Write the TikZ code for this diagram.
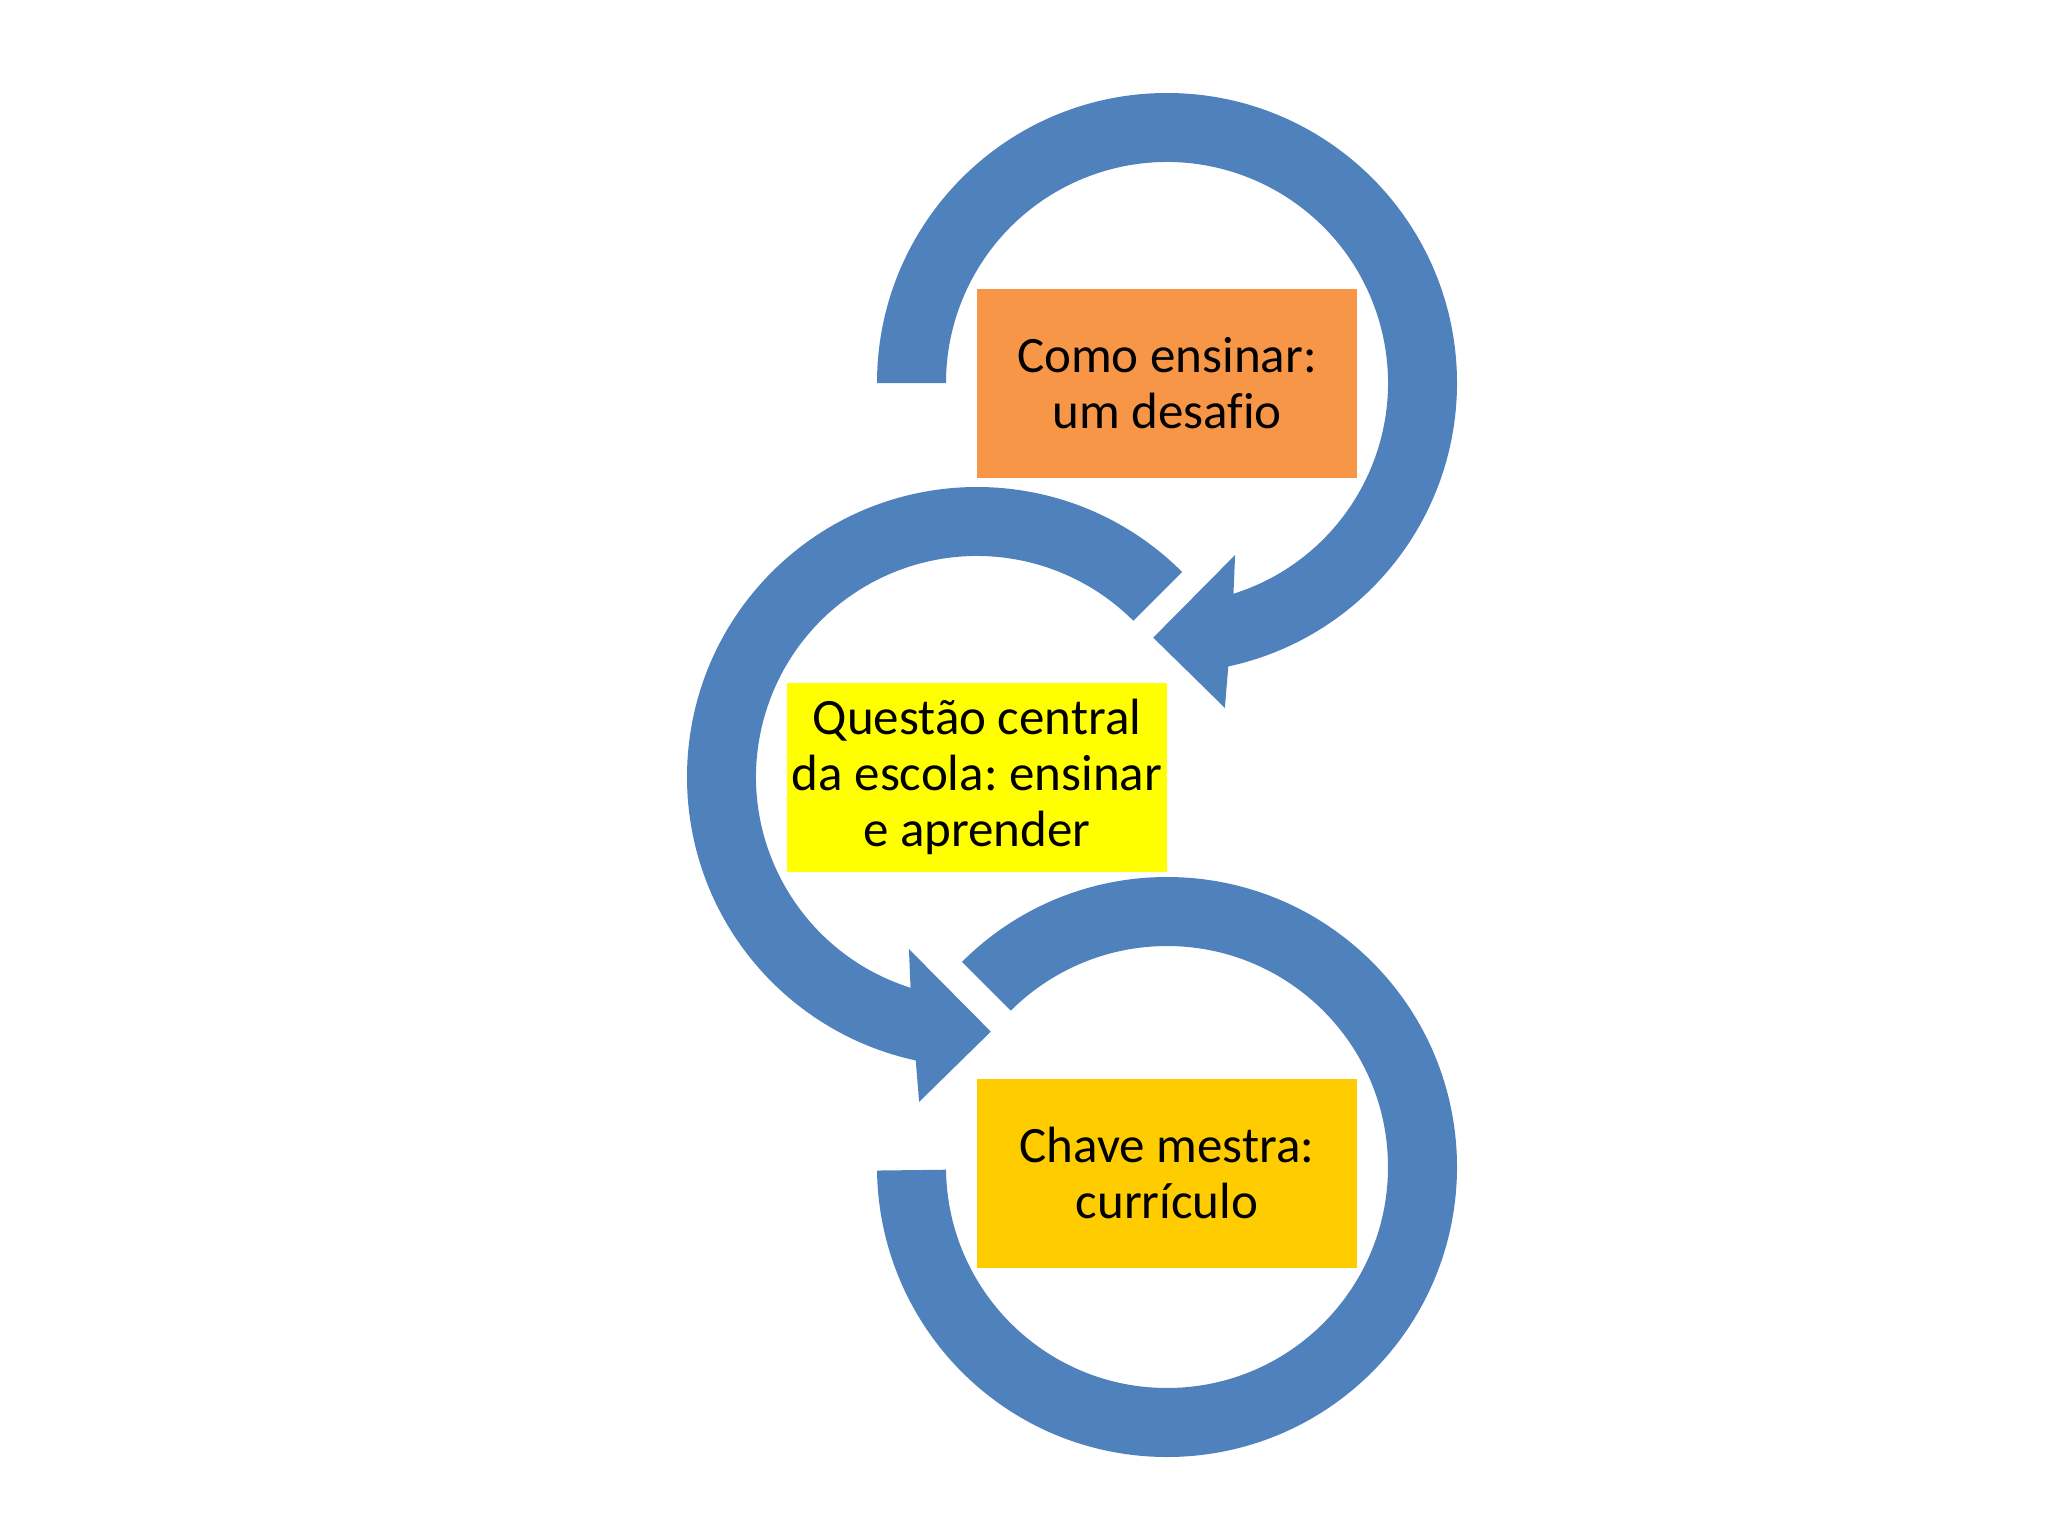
\documentclass[tikz,border=0pt]{standalone}
\usepackage{fontspec}
\setmainfont{Carlito}[Ligatures=NoCommon]
\frenchspacing
\usetikzlibrary{calc}
\definecolor{loopblue}{HTML}{4F81BD}
\definecolor{boxorange}{HTML}{F79646}
\definecolor{boxyellow}{HTML}{FFFF00}
\definecolor{boxgold}{HTML}{FFCC00}

\begin{document}
\begin{tikzpicture}[x=1pt,y=1pt,
  box/.style={minimum width=380pt,minimum height=189pt,inner sep=0pt,align=center,font=\fontsize{51}{56}\selectfont}]
\useasboundingbox (0,0) rectangle (2048,-1536);
\coordinate (T) at (1167,-383); \coordinate (M) at (977,-777); \coordinate (B) at (1167,-1167);
% top loop, clockwise
\fill[loopblue] ($(T)+(180:290)$) arc[start angle=180,end angle=-77.8,radius=290]
  -- ($(T)+(-79.9:330)$) -- ($(T)+(-93.1:255)$) -- ($(T)+(-68.4:185)$) -- ($(T)+(-72.5:221)$)
  arc[start angle=-72.5,end angle=180,radius=221] -- cycle;
% middle loop, counter-clockwise
\fill[loopblue] ($(M)+(45:290)$) arc[start angle=45,end angle=257.8,radius=290]
  -- ($(M)+(259.9:330)$) -- ($(M)+(273.1:255)$) -- ($(M)+(248.4:185)$) -- ($(M)+(252.5:221)$)
  arc[start angle=252.5,end angle=45,radius=221] -- cycle;
% bottom loop, no head
\fill[loopblue] ($(B)+(135:290)$) arc[start angle=135,end angle=-179.3,radius=290]
  -- ($(B)+(-179.3:221)$) arc[start angle=-179.3,end angle=135,radius=221] -- cycle;
\node[box,fill=boxorange] (como) at (T) {Como ensinar:\\um desafio};
\node[box,fill=boxyellow] (questao) at (M) {Questão central\\da escola: ensinar\\e aprender};
\node[box,fill=boxgold] (chave) at ($(B)+(0,-6)$) {Chave mestra:\\currículo};
\end{tikzpicture}
\end{document}
